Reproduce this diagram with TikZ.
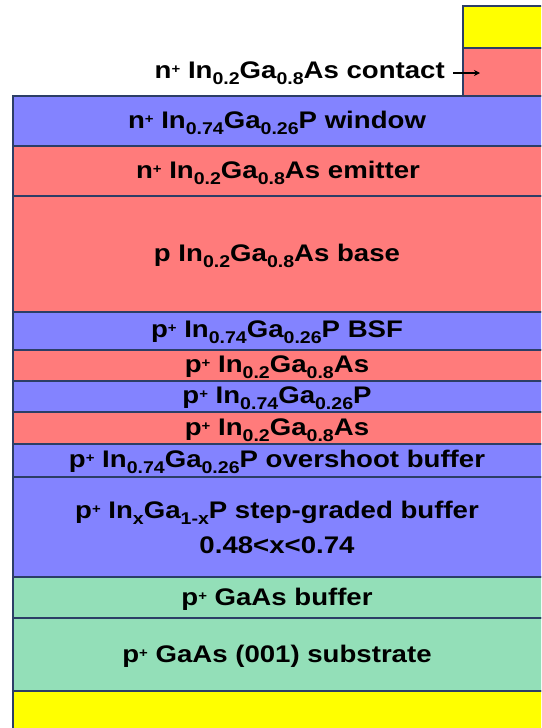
\documentclass[tikz,border=0pt]{standalone}
\usepackage{fontspec}
\setmainfont{Liberation Sans}
\newfontfamily\lblfont{Liberation Sans}[FakeStretch=1.15]
\usetikzlibrary{arrows.meta}
\definecolor{lblue}{HTML}{8383FF}
\definecolor{lred}{HTML}{FF7B7B}
\definecolor{lgreen}{HTML}{93DFB8}
\definecolor{lyellow}{HTML}{FFFF00}
\definecolor{edge}{HTML}{2C3E66}
\newcommand\subs[1]{\raisebox{-6.5pt}{\fontsize{17}{17}\selectfont #1}}
\newcommand\pp{\raisebox{5pt}{\fontsize{13}{13}\selectfont +}}
\tikzset{
  layer/.style={draw=edge, line width=1.2pt},
  lbl/.style={font=\lblfont\bfseries\fontsize{24}{35}\selectfont, inner sep=0pt, text=black},
}
\begin{document}
\begin{tikzpicture}[x=1pt,y=-1pt]
\clip (0,0) rectangle (541,728);
\fill[white] (0,0) rectangle (541,728);
% contact stack
\path[layer, fill=lyellow] (463,6) rectangle (550,48);
\path[layer, fill=lred] (463,48) rectangle (550,96);
% layers
\path[layer, fill=lblue] (13,96) rectangle (550,146);
\path[layer, fill=lred] (13,146) rectangle (550,196);
\path[layer, fill=lred] (13,196) rectangle (550,312);
\path[layer, fill=lblue] (13,312) rectangle (550,350);
\path[layer, fill=lred] (13,350) rectangle (550,381);
\path[layer, fill=lblue] (13,381) rectangle (550,412);
\path[layer, fill=lred] (13,412) rectangle (550,444);
\path[layer, fill=lblue] (13,444) rectangle (550,477);
\path[layer, fill=lblue] (13,477) rectangle (550,577);
\path[layer, fill=lgreen] (13,577) rectangle (550,618);
\path[layer, fill=lgreen] (13,618) rectangle (550,691);
\path[layer, fill=lyellow] (13,691) rectangle (550,740);
% labels
\node[lbl, anchor=east] (tc) at (445,73) {n\pp{} In\subs{0.2}Ga\subs{0.8}As contact};
\coordinate (ct) at (480,73);
\draw[line width=1.2pt, -{Stealth[length=6pt,width=6pt]}] ([xshift=8pt]tc.east) -- (ct);
\node[lbl] (tw) at (277,123) {n\pp{} In\subs{0.74}Ga\subs{0.26}P window};
\node[lbl] (te) at (278,173) {n\pp{} In\subs{0.2}Ga\subs{0.8}As emitter};
\node[lbl] (tb) at (277,256) {p In\subs{0.2}Ga\subs{0.8}As base};
\node[lbl] (tbsf) at (277,332) {p\pp{} In\subs{0.74}Ga\subs{0.26}P BSF};
\node[lbl] (t1) at (277,367) {p\pp{} In\subs{0.2}Ga\subs{0.8}As};
\node[lbl] (t2) at (277,398) {p\pp{} In\subs{0.74}Ga\subs{0.26}P};
\node[lbl] (t3) at (277,430) {p\pp{} In\subs{0.2}Ga\subs{0.8}As};
\node[lbl] (to) at (277,462) {p\pp{} In\subs{0.74}Ga\subs{0.26}P overshoot buffer};
\node[lbl, align=center] (ts) at (277,527) {p\pp{} In\subs{x}Ga\subs{1-x}P step-graded buffer\\0.48<x<0.74};
\node[lbl] (tgb) at (277,599) {p\pp{} GaAs buffer};
\node[lbl] (tsub) at (277,656) {p\pp{} GaAs (001) substrate};
\end{tikzpicture}
\end{document}
